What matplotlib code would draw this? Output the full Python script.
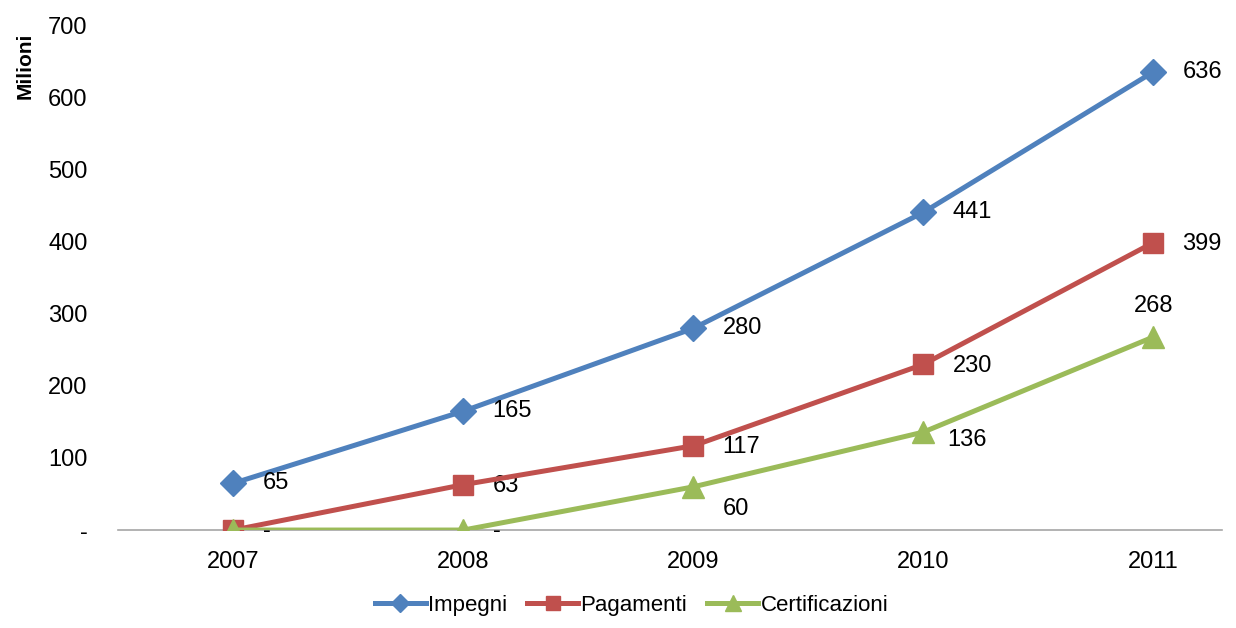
import matplotlib
matplotlib.use('Agg')
import matplotlib.pyplot as plt
from matplotlib import font_manager

# Font: condensed look if available
names = {f.name for f in font_manager.fontManager.ttflist}
if 'Liberation Sans Narrow' in names:
    plt.rcParams['font.family'] = ['Liberation Sans Narrow', 'DejaVu Sans']
else:
    plt.rcParams['font.family'] = ['Liberation Sans', 'DejaVu Sans']

years = ['2007', '2008', '2009', '2010', '2011']
impegni = [65, 165, 280, 441, 636]
pagamenti = [0, 63, 117, 230, 399]
certificazioni = [0, 0, 60, 136, 268]
yticks = [0, 100, 200, 300, 400, 500, 600, 700]
ytick_labels = ['-', '100', '200', '300', '400', '500', '600', '700']

FS = 17

fig = plt.figure(figsize=(12.36, 6.28), dpi=100)
ax = fig.add_axes([0.0955, 0.156, 0.8935, 0.803])

x = list(range(len(years)))
ax.plot(x, impegni, color='#4F81BD', lw=3.6, marker='D', ms=13, label='Impegni', zorder=3)
ax.plot(x, pagamenti, color='#C0504D', lw=3.6, marker='s', ms=15, label='Pagamenti', zorder=4)
ax.plot(x, certificazioni, color='#9BBB59', lw=3.6, marker='^', ms=16, label='Certificazioni', zorder=5)

def fmt(v):
    return '-' if v == 0 else str(v)

# data labels (offsets in points)
for i, v in enumerate(impegni):
    ax.annotate(fmt(v), (i, v), xytext=(21, 0), textcoords='offset points',
                ha='left', va='center', fontsize=FS)
for i, v in enumerate(pagamenti):
    ax.annotate(fmt(v), (i, v), xytext=(21, -1), textcoords='offset points',
                ha='left', va='center', fontsize=FS)
cert_offsets = [(21, -1), (21, -1), (21, -16), (17, -6), (0, 22)]
for i, v in enumerate(certificazioni):
    if i == 0:
        continue
    dx, dy = cert_offsets[i]
    ax.annotate(fmt(v), (i, v), xytext=(dx, dy), textcoords='offset points',
                ha='center' if dx == 0 else 'left', va='center', fontsize=FS)

ax.set_xlim(-0.502, 4.30)
ax.set_ylim(0, 700)
ax.set_xticks(x)
ax.set_xticklabels(years, fontsize=FS)
ax.set_yticks(yticks)
ax.set_yticklabels(ytick_labels, fontsize=FS)
ax.tick_params(axis='both', length=0)
ax.tick_params(axis='y', pad=22)
ax.tick_params(axis='x', pad=15)

for s in ['top', 'right', 'left']:
    ax.spines[s].set_visible(False)
ax.spines['bottom'].set_color('#A6A6A6')
ax.spines['bottom'].set_linewidth(1.2)

fig.text(0.02, 0.895, 'Milioni', rotation=90, fontsize=15, fontweight='bold',
         ha='center', va='center')

fig.legend(loc='lower center', bbox_to_anchor=(0.511, -0.012), ncol=3, frameon=False,
           fontsize=16, handlelength=2.3, handletextpad=0.1, columnspacing=0.9,
           markerscale=0.7)

fig.savefig('out.png', dpi=100, facecolor='white')
